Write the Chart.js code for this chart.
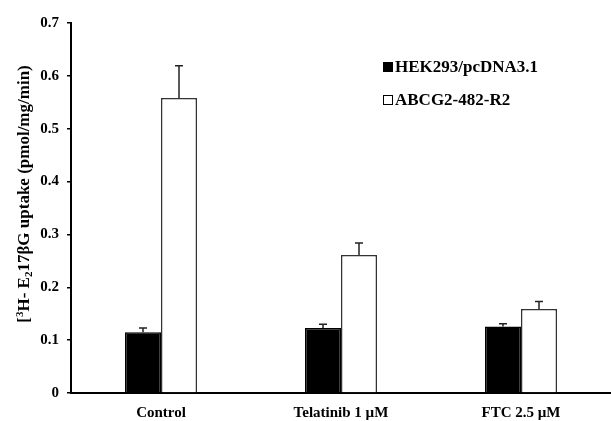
<!DOCTYPE html>
<html>
<head>
<meta charset="utf-8">
<script src="https://cdn.jsdelivr.net/npm/chart.js@4.4.1/dist/chart.umd.min.js"></script>
<style>
  html,body{margin:0;padding:0;background:#fff;}
  #wrap{width:611px;height:421px;}
</style>
</head>
<body>
<div id="wrap"><canvas id="chart" width="611" height="421"></canvas></div>
<script>
// ======================= DATA =======================
const categories=['Control','Telatinib 1 \u00b5M','FTC 2.5 \u00b5M'];
const hekValues=[0.115,0.123,0.126];
const hekErrors=[0.008,0.007,0.005];
const abcgValues=[0.558,0.261,0.159];
const abcgErrors=[0.061,0.023,0.014];
const yTicks=[0,0.1,0.2,0.3,0.4,0.5,0.6,0.7];
// y title pieces: [text, 'n' normal | 'sup' | 'sub']
const yTitle=[['[','n'],['3','sup'],['H- E','n'],['2','sub'],['17\u03b2G uptake (pmol/mg/min)','n']];

const FONT='"Liberation Serif","Times New Roman",serif';

// ======================= ERROR BARS (upper only) =======================
const errorBars={
  id:'errorBars',
  afterDatasetsDraw(chart){
    const ctx=chart.ctx, y=chart.scales.y;
    chart.data.datasets.forEach((ds,di)=>{
      const meta=chart.getDatasetMeta(di);
      meta.data.forEach((bar,i)=>{
        const top=y.getPixelForValue(ds.data[i]);
        const tip=y.getPixelForValue(ds.data[i]+ds.errors[i]);
        ctx.save();
        ctx.strokeStyle='#222';
        ctx.lineWidth=1.5;
        ctx.beginPath();
        ctx.moveTo(bar.x,top);ctx.lineTo(bar.x,tip);
        ctx.moveTo(bar.x-4,tip);ctx.lineTo(bar.x+4,tip);
        ctx.stroke();
        ctx.restore();
      });
    });
  }
};

// ======================= LEGEND (stacked, inside plot) =======================
const boxLegend={
  id:'boxLegend',
  afterDraw(chart){
    const ctx=chart.ctx, a=chart.chartArea;
    const x0=a.left+312, y0=a.top+45, gap=33;
    ctx.save();
    ctx.font='bold 17px '+FONT;
    ctx.textBaseline='middle';
    chart.data.datasets.forEach((ds,i)=>{
      const yy=y0+i*gap;
      ctx.fillStyle=ds.backgroundColor;
      ctx.fillRect(x0,yy-6,10,10);
      ctx.strokeStyle='#000';ctx.lineWidth=1;
      ctx.strokeRect(x0+0.5,yy-5.5,9,9);
      ctx.fillStyle='#000';
      ctx.fillText(ds.label,x0+12,yy);
    });
    ctx.restore();
  }
};

// ======================= Y TITLE with super/subscript =======================
const yTitlePlugin={
  id:'yTitlePlugin',
  afterDraw(chart){
    const ctx=chart.ctx;
    const big='bold 17px '+FONT, small='bold 11px '+FONT;
    ctx.save();
    ctx.translate(23,194);
    ctx.rotate(-Math.PI/2);
    ctx.fillStyle='#000';
    ctx.textBaseline='alphabetic';
    let total=0;
    yTitle.forEach(([t,k])=>{ctx.font=k==='n'?big:small;total+=ctx.measureText(t).width;});
    let x=-total/2;
    yTitle.forEach(([t,k])=>{
      ctx.font=k==='n'?big:small;
      const dy=k==='sup'?-6:(k==='sub'?3:0);
      ctx.fillText(t,x,6+dy);
      x+=ctx.measureText(t).width;
    });
    ctx.restore();
  }
};

new Chart(document.getElementById('chart'),{
  type:'bar',
  data:{
    labels:categories,
    datasets:[
      {label:'HEK293/pcDNA3.1',data:hekValues,errors:hekErrors,backgroundColor:'#000',borderColor:'#000',borderWidth:1.5},
      {label:'ABCG2-482-R2',data:abcgValues,errors:abcgErrors,backgroundColor:'#fff',borderColor:'#333',borderWidth:1.5}
    ]
  },
  options:{
    responsive:false,
    animation:false,
    categoryPercentage:0.4,
    barPercentage:1.0,
    layout:{padding:{top:23,right:0,bottom:0,left:0}},
    plugins:{legend:{display:false},tooltip:{enabled:false}},
    scales:{
      x:{
        grid:{display:false},
        border:{color:'#000',width:2},
        afterFit(s){s.height=28;},
        ticks:{color:'#000',font:{family:FONT,size:15,weight:'bold'},padding:3}
      },
      y:{
        min:0,max:0.7,
        afterBuildTicks(s){s.ticks=yTicks.map(v=>({value:v}));},
        afterFit(s){s.width=71;},
        grid:{drawOnChartArea:false,drawTicks:true,tickLength:4,color:'#000',lineWidth:1.5},
        border:{color:'#000',width:2},
        ticks:{color:'#000',font:{family:FONT,size:15,weight:'bold'},padding:8}
      }
    }
  },
  plugins:[errorBars,boxLegend,yTitlePlugin]
});
</script>
</body>
</html>
